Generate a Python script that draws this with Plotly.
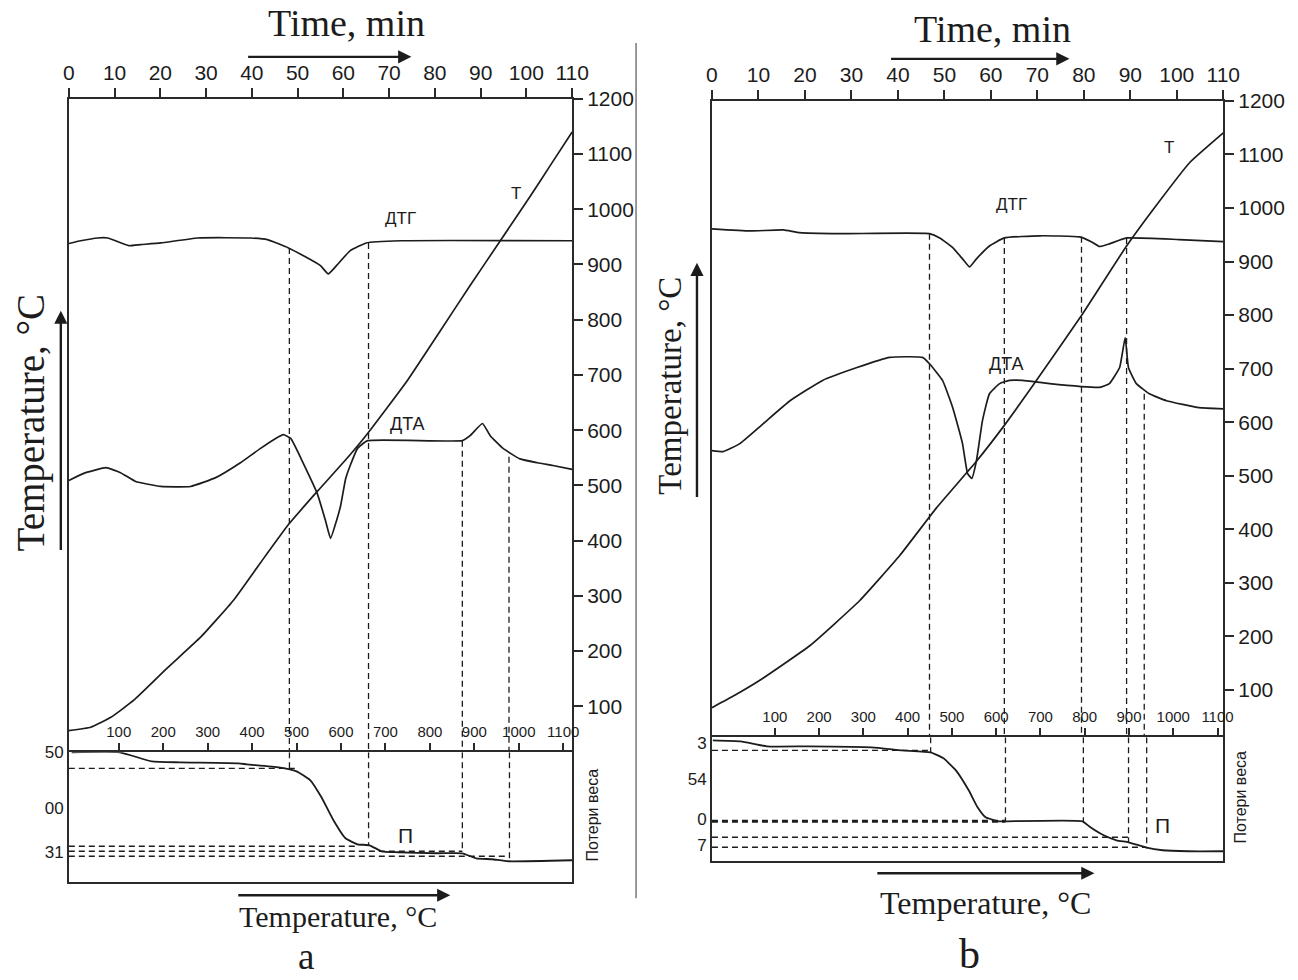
import plotly.graph_objects as go

# ---------------- data: panel a ----------------
a_time_ticks = list(range(0, 111, 10))
a_temp_ticks = list(range(100, 1201, 100))
a_inner_ticks = list(range(100, 1101, 100))

a_T_time = [0, 4.8, 9.2, 14.2, 21.6, 28.8, 36.0, 41.9, 48.0, 54.3, 60.9, 65.3, 74.0, 81.2, 87.7, 94.3, 100.8, 105.2, 110]
a_T_temp = [56, 62, 80, 111, 170, 225, 292, 360, 429, 489, 550, 594, 690, 780, 862, 943, 1023, 1079, 1140]

a_DTG_time = [0, 2.6, 6.3, 8.5, 13.1, 15.7, 20.1, 28.2, 39.7, 43.4, 48.0, 51.7, 55.0, 56.7, 58.5, 61.5, 65.0, 72.5, 110]
a_DTG_val = [938, 943, 948, 948, 934, 936, 939, 948, 948, 945, 930, 914, 898, 883, 898, 925, 939, 943, 943]

a_DTA_time = [0, 3.7, 8.1, 11.3, 14.6, 20.1, 26.6, 32.1, 37.5, 41.9, 45.2, 46.9, 48.5, 51.3, 54.3, 56.1, 57.2,
              58.5, 59.4, 60.5, 61.5, 63.1, 65.3, 86.0, 87.7, 90.4, 92.1, 94.9, 98.6, 102.4, 105.8, 110]
a_DTA_val = [509, 523, 532, 523, 507, 498, 498, 514, 541, 567, 585, 592, 585, 539, 485, 436, 404,
             436, 463, 512, 536, 567, 581, 581, 590, 612, 590, 567, 548, 541, 536, 529]

a_TG_temp = [-6, 102, 174, 237, 370, 388, 460, 500, 531, 556, 583, 610, 637, 664, 691, 727, 817, 873, 904, 940, 976, 1120]
a_TG_loss = [0, 0, 9, 10, 11, 12, 15, 19, 28, 45, 68, 86, 92, 93, 99, 100, 101, 101, 106, 107, 109, 108]

# vertical dashed markers: time (upper part) / temperature (TG part)
a_mark_time = [48.2, 65.5, 86.0, 96.2]
a_mark_top = [930, 939, 581, 552]
a_mark_temp = [484, 662, 873, 979]
a_mark_loss = [16, 93, 100, 108]
# horizontal dashed levels in the TG part
a_level_loss = [16, 94, 99, 104]
a_level_end = [500, 637, 873, 976]
a_tg_ticks = [0, 56, 100]
a_tg_labels = ["50", "00", "31"]

# ---------------- data: panel b ----------------
b_T_time = [0, 4.9, 10.3, 21.1, 31.8, 40.4, 48.3, 56.9, 62.9, 69.0, 79.5, 89.2, 96.3, 102.7, 110]
b_T_temp = [67, 90, 118, 183, 267, 351, 440, 527, 594, 668, 799, 929, 1013, 1084, 1140]

b_DTG_time = [0, 8.2, 15.3, 18.9, 27.5, 46.8, 49.0, 51.8, 53.9, 55.4, 56.9, 59.7, 62.9, 70.5, 79.1, 81.6,
              83.4, 85.5, 89.2, 100.5, 110]
b_DTG_val = [961, 957, 959, 954, 952, 952, 944, 926, 905, 890, 905, 929, 944, 948, 946, 937,
             928, 933, 944, 941, 937]

b_DTA_time = [0, 2.4, 6.0, 11.0, 16.8, 23.8, 31.2, 38.2, 45.3, 46.8, 49.6, 51.8, 53.9, 55.0, 55.9, 56.9,
              58.2, 59.7, 61.9, 64.0, 66.8, 72.6, 83.4, 85.5, 87.7, 88.9, 89.6, 91.3, 94.1, 97.8, 104.8, 110]
b_DTA_val = [547, 545, 560, 597, 640, 678, 702, 721, 721, 709, 678, 627, 560, 504, 495, 528,
             603, 653, 672, 678, 678, 672, 665, 672, 702, 758, 702, 672, 653, 640, 627, 625]

b_TG_temp = [-40, 23, 82, 177, 319, 387, 452, 481, 509, 538, 558, 576, 606, 624, 795, 813, 843, 872,
             899, 937, 976, 1034, 1113]
b_TG_loss = [3, 4, 9, 9, 10, 13, 15, 21, 33, 53, 70, 80, 84, 84, 84, 90, 98, 103, 105, 110, 113, 114, 114]

b_mark_time = [46.8, 62.9, 79.5, 89.2, 93.0]
b_mark_top = [952, 944, 946, 944, 653]
b_mark_temp = [452, 621, 797, 899, 940]
b_mark_loss = [15, 84, 84, 105, 111]
b_level_loss = [13, 84, 100, 110]
b_level_end = [452, 621, 899, 940]
b_tg_ticks = [6, 42, 82, 108]
b_tg_labels = ["3", "54", "0", "7"]

# ---------------- styling ----------------
INK = "#1c1c1c"
AX = "#2a2a2a"
SANS = "Liberation Sans, Arial, sans-serif"
SERIF = "Liberation Serif, Times New Roman, serif"

A_RANGE_TEMP = [16.5, 1200]
A_RANGE_INNER = [-12.4, 1120]
A_RANGE_TG = [130, 0]
B_RANGE_TEMP = [11.5, 1200]
B_RANGE_INNER = [-42, 1113]
B_RANGE_TG = [124, 0]

W, H = 1298, 980
# layout calibration (page placement)
SX, OX = 0.9836, 5.1
SY, OY = 0.9885, 11.1


def px_x(p):
    return ((p - OX) / SX) / W


def px_y(p):
    return 1 - ((p - OY) / SY) / H


fig = go.Figure()


def curve(x, y, xa, ya, width=1.7):
    fig.add_trace(go.Scatter(x=x, y=y, xaxis=xa, yaxis=ya, mode="lines",
                             line=dict(color=INK, width=width, shape="spline", smoothing=0.4),
                             hoverinfo="skip", showlegend=False))


def dashed(xs, ys, xa, ya, width=1.3):
    fig.add_trace(go.Scatter(x=xs, y=ys, xaxis=xa, yaxis=ya, mode="lines",
                             line=dict(color=INK, width=width, dash="6px,4px"),
                             hoverinfo="skip", showlegend=False))


def panel(T_t, T_v, G_t, G_v, D_t, D_v, TG_x, TG_y, mt, mtop, mtemp, mloss, lv, lend,
          rng_temp, rng_inner, xa, ya, xa2, ya2, thick_level=None):
    for t, top in zip(mt, mtop):
        dashed([t, t], [top, rng_temp[0]], xa, ya)
    for tx, ls in zip(mtemp, mloss):
        dashed([tx, tx], [0, ls], xa2, ya2)
    for i, (ls, e) in enumerate(zip(lv, lend)):
        w = 3.0 if (thick_level is not None and i == thick_level) else 1.3
        dashed([rng_inner[0], e], [ls, ls], xa2, ya2, width=w)
    curve(G_t, G_v, xa, ya)
    curve(D_t, D_v, xa, ya)
    curve(T_t, T_v, xa, ya)
    curve(TG_x, TG_y, xa2, ya2, width=1.8)


panel(a_T_time, a_T_temp, a_DTG_time, a_DTG_val, a_DTA_time, a_DTA_val, a_TG_temp, a_TG_loss,
      a_mark_time, a_mark_top, a_mark_temp, a_mark_loss, a_level_loss, a_level_end,
      A_RANGE_TEMP, A_RANGE_INNER, "x", "y", "x2", "y2")
panel(b_T_time, b_T_temp, b_DTG_time, b_DTG_val, b_DTA_time, b_DTA_val, b_TG_temp, b_TG_loss,
      b_mark_time, b_mark_top, b_mark_temp, b_mark_loss, b_level_loss, b_level_end,
      B_RANGE_TEMP, B_RANGE_INNER, "x3", "y3", "x4", "y4", thick_level=1)

base = dict(showgrid=False, zeroline=False, showline=True, linecolor=AX, linewidth=1.6,
            ticks="outside", tickcolor=AX, tickwidth=1.5, ticklen=9,
            tickfont=dict(family=SANS, size=21, color=INK))

layout = dict(
    width=W, height=H, autosize=False,
    margin=dict(l=0, r=0, t=0, b=0),
    paper_bgcolor="white", plot_bgcolor="white",
    showlegend=False,
)

layout["xaxis"] = dict(base, domain=[px_x(68), px_x(572)], range=[0, 110], side="top", anchor="y",
                       tickvals=a_time_ticks)
layout["yaxis"] = dict(base, domain=[px_y(752), px_y(98)], range=A_RANGE_TEMP, side="right", anchor="x",
                       tickvals=a_temp_ticks, mirror=True)
layout["xaxis2"] = dict(base, domain=[px_x(68), px_x(572)], range=A_RANGE_INNER, side="top", anchor="y2",
                        tickvals=a_inner_ticks, mirror=True, ticklen=8,
                        tickfont=dict(family=SANS, size=15, color=INK))
layout["yaxis2"] = dict(base, domain=[px_y(882), px_y(752)], range=A_RANGE_TG, side="left", anchor="x2",
                        tickvals=a_tg_ticks, ticktext=a_tg_labels, ticks="", mirror=True,
                        tickfont=dict(family=SANS, size=17, color=INK))
layout["xaxis3"] = dict(base, domain=[px_x(712), px_x(1224)], range=[0, 110], side="top", anchor="y3",
                        tickvals=a_time_ticks)
layout["yaxis3"] = dict(base, domain=[px_y(737), px_y(100)], range=B_RANGE_TEMP, side="right", anchor="x3",
                        tickvals=a_temp_ticks, mirror=True)
layout["xaxis4"] = dict(base, domain=[px_x(712), px_x(1224)], range=B_RANGE_INNER, side="top", anchor="y4",
                        tickvals=a_inner_ticks, mirror=True, ticklen=8,
                        tickfont=dict(family=SANS, size=15, color=INK))
layout["yaxis4"] = dict(base, domain=[px_y(861), px_y(737)], range=B_RANGE_TG, side="left", anchor="x4",
                        tickvals=b_tg_ticks, ticktext=b_tg_labels, ticks="", mirror=True,
                        tickfont=dict(family=SANS, size=17, color=INK))

fig.update_layout(**layout)

ann = []


def text(x, y, s, size, family=SANS, angle=0, xref="paper", yref="paper", yanchor="middle"):
    ann.append(dict(x=x, y=y, xref=xref, yref=yref, text=s, showarrow=False, textangle=angle,
                    xanchor="center", yanchor=yanchor, borderpad=0,
                    font=dict(family=family, size=size, color=INK)))


def arrow(x_head, y_head, dx, dy):
    ann.append(dict(x=px_x(x_head), y=px_y(y_head), xref="paper", yref="paper", text="",
                    showarrow=True, ax=dx / SX, ay=dy / SY, arrowhead=2, arrowsize=1.1, arrowwidth=2.4,
                    arrowcolor=INK))


# panel a titles
text(px_x(346), px_y(22), "Time, min", 38, SERIF)
arrow(411, 56, -162, 0)
text(px_x(30), px_y(422), "Temperature, °C", 39, SERIF, angle=-90)
arrow(60, 310, 0, 238)
arrow(450, 895, -210, 0)
text(px_x(338), px_y(916), "Temperature, °C", 30, SERIF)
text(px_x(306), px_y(978), "a", 37, SERIF, yanchor="bottom")
text(px_x(592), px_y(815), "Потери веса", 16, SANS, angle=-90)

# panel b titles
text(px_x(993), px_y(28), "Time, min", 38, SERIF)
arrow(1070, 58, -177, 0)
text(px_x(670), px_y(385), "Temperature, °C", 33, SERIF, angle=-90)
arrow(697, 262, 0, 233)
arrow(1095, 873, -215, 0)
text(px_x(986), px_y(903), "Temperature, °C", 32, SERIF)
text(px_x(970), px_y(978), "b", 42, SERIF, yanchor="bottom")
text(px_x(1241), px_y(797), "Потери веса", 16, SANS, angle=-90)

# curve labels (data coordinates)
text(72.5, 983, "ДТГ", 17, xref="x", yref="y")
text(97.8, 1028, "Т", 17, xref="x", yref="y")
text(74.0, 612, "ДТА", 18, xref="x", yref="y")
text(745, 83, "П", 21, xref="x2", yref="y2")
text(64.5, 1006, "ДТГ", 17, xref="x3", yref="y3")
text(98.4, 1112, "Т", 17, xref="x3", yref="y3")
text(63.4, 709, "ДТА", 18, xref="x3", yref="y3")
text(976, 88, "П", 21, xref="x4", yref="y4")

fig.update_layout(annotations=ann)

fig.add_shape(type="line", xref="paper", yref="paper", x0=px_x(636), x1=px_x(636),
              y0=px_y(42), y1=px_y(898), line=dict(color="#777777", width=1.5))

fig.write_html("out.html", config={"displayModeBar": False},
               post_script="document.body.style.margin='0';document.body.style.overflow='hidden';")
